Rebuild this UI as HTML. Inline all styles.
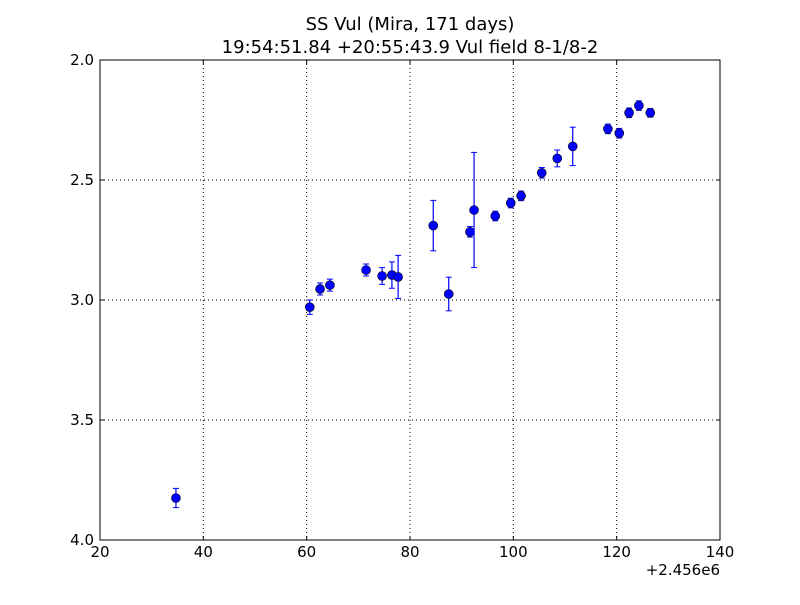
<!DOCTYPE html>
<html><head><meta charset="utf-8"><style>
body{margin:0;background:#fff;}
svg{font-family:"DejaVu Sans","Liberation Sans",sans-serif;}
</style></head><body>
<svg id="chart" width="800" height="600"></svg>
<script>
const xs=[34.7,60.6,62.6,64.5,71.5,74.6,76.5,77.7,84.5,87.5,91.6,92.4,96.5,99.5,101.5,105.5,108.5,111.5,118.3,120.5,122.4,124.3,126.5];
const mags=[3.825,3.03,2.954,2.938,2.875,2.90,2.896,2.904,2.69,2.975,2.716,2.625,2.65,2.596,2.566,2.47,2.41,2.36,2.287,2.305,2.22,2.19,2.22];
const errs=[0.04,0.03,0.025,0.025,0.025,0.035,0.055,0.09,0.105,0.07,0.022,0.24,0.02,0.02,0.02,0.022,0.035,0.08,0.02,0.02,0.02,0.02,0.018];
const xTicks=[20,40,60,80,100,120,140];
const yTicks=[2.0,2.5,3.0,3.5,4.0];
const L=100,R=720,T=60,B=540;
const sx=v=>L+(v-20)/120*(R-L);
const sy=v=>T+(v-2)/2*(B-T);
const svg=document.getElementById('chart');
const NS='http://www.w3.org/2000/svg';
function mk(t,a,txt){const e=document.createElementNS(NS,t);for(const k in a)e.setAttribute(k,a[k]);if(txt!==undefined)e.textContent=txt;svg.appendChild(e);return e;}
let e;
e=mk('rect',{x:L,y:T,width:R-L,height:B-T,fill:'#fff'});


xTicks.forEach(v=>{
  if(v>20&&v<140){e=mk('line',{x1:sx(v),x2:sx(v),y1:T,y2:B,stroke:'#000','stroke-dasharray':'1,3','stroke-width':1});
  
  }
  mk('line',{x1:sx(v),x2:sx(v),y1:B,y2:B-4,stroke:'#000'});
  mk('line',{x1:sx(v),x2:sx(v),y1:T,y2:T+4,stroke:'#000'});
  e=mk('text',{x:sx(v),y:B+17,'text-anchor':'middle','font-size':15},String(v));
  
  
});
yTicks.forEach(v=>{
  if(v>2&&v<4){e=mk('line',{x1:L,x2:R,y1:sy(v),y2:sy(v),stroke:'#000','stroke-dasharray':'1,3','stroke-width':1});
  
  }
  mk('line',{x1:L,x2:L+4,y1:sy(v),y2:sy(v),stroke:'#000'});
  mk('line',{x1:R,x2:R-4,y1:sy(v),y2:sy(v),stroke:'#000'});
  e=mk('text',{x:L-6,y:sy(v)+5,'text-anchor':'end','font-size':15},v.toFixed(1));
  
  
});
e=mk('rect',{x:L,y:T,width:R-L,height:B-T,fill:'none',stroke:'#000'});


xs.forEach((x,i)=>{
  const cx=sx(x),cy=sy(mags[i]),y1=sy(mags[i]-errs[i]),y2=sy(mags[i]+errs[i]);
  e=mk('line',{x1:cx,x2:cx,y1:y1,y2:y2,stroke:'#0000ff','stroke-width':1.2});
  
  
  mk('line',{x1:cx-3,x2:cx+3,y1:y1,y2:y1,stroke:'#0000ff'});
  mk('line',{x1:cx-3,x2:cx+3,y1:y2,y2:y2,stroke:'#0000ff'});
  e=mk('circle',{cx:cx,cy:cy,r:4.5,fill:'#0000ff',stroke:'#000','stroke-width':0.6});
  
  
});
e=mk('text',{x:410,y:30,'text-anchor':'middle','font-size':18},'SS Vul (Mira, 171 days)');


e=mk('text',{x:410,y:53,'text-anchor':'middle','font-size':18},'19:54:51.84 +20:55:43.9 Vul field 8-1/8-2');


e=mk('text',{x:720,y:575,'text-anchor':'end','font-size':15},'+2.456e6');


</script>
</body></html>
